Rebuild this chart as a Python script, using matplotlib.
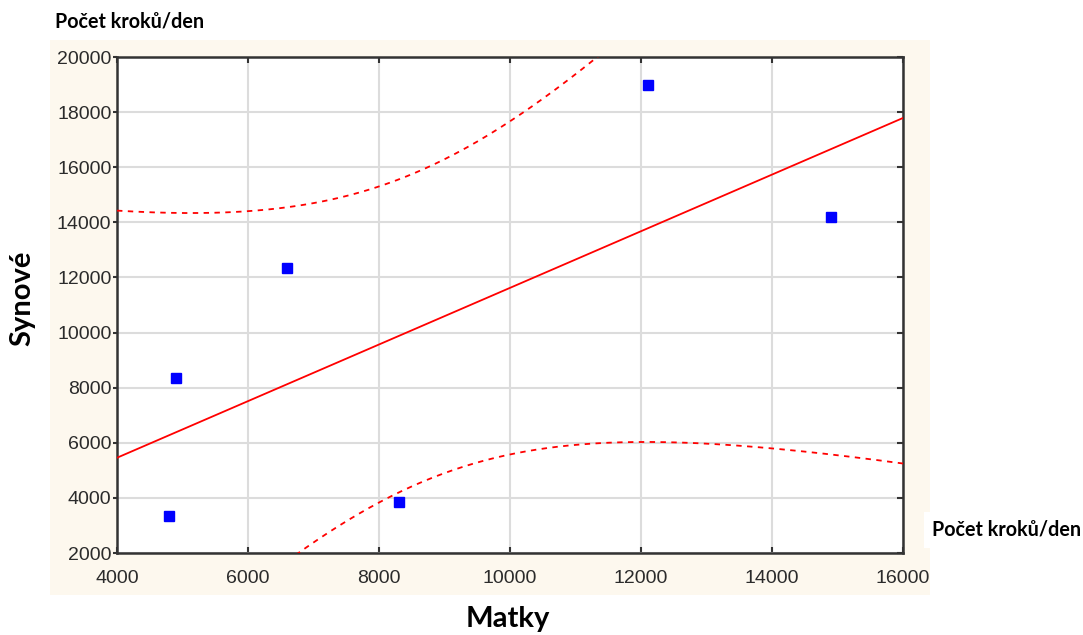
import numpy as np
import matplotlib.pyplot as plt
from matplotlib.patches import Rectangle

# data
matky = [4800, 4900, 6600, 8300, 12100, 14900]
synove = [3350, 8350, 12350, 3850, 19000, 14200]
x_ticks = [4000, 6000, 8000, 10000, 12000, 14000, 16000]
y_ticks = [2000, 4000, 6000, 8000, 10000, 12000, 14000, 16000, 18000, 20000]

x = np.array(matky, dtype=float)
y = np.array(synove, dtype=float)

# linear fit with 95% confidence band of the mean
slope, intercept = np.polyfit(x, y, 1)
n = len(x)
resid = y - (slope * x + intercept)
s = np.sqrt(np.sum(resid ** 2) / (n - 2))
t_val = 2.776  # t(0.975, 4)
xx = np.linspace(4000, 16000, 300)
yy = slope * xx + intercept
se = s * np.sqrt(1.0 / n + (xx - x.mean()) ** 2 / np.sum((x - x.mean()) ** 2))
upper = yy + t_val * se
lower = yy - t_val * se

W, H = 1083, 635
fig = plt.figure(figsize=(W / 100, H / 100), dpi=100)
fig.patch.set_facecolor('white')

# beige panel behind the chart
panel = Rectangle((50 / W, 1 - 595 / H), 880 / W, 555 / H, transform=fig.transFigure,
                  facecolor='#fdf8ee', edgecolor='none', zorder=-5)
fig.patches.append(panel)

ax = fig.add_axes([117 / W, 1 - 553 / H, 786 / W, 496 / H])
ax.set_zorder(1)
ax.set_facecolor('white')

ax.plot(xx, yy, color='#ff0000', lw=1.3, zorder=3)
ax.plot(xx, upper, color='#ff0000', lw=1.3, ls=(0, (3, 3)), zorder=3)
ax.plot(xx, lower, color='#ff0000', lw=1.3, ls=(0, (3, 3)), zorder=3)
ax.plot(x, y, 's', color='#0000ff', markersize=7, zorder=4)

ax.set_xlim(4000, 16000)
ax.set_ylim(2000, 20000)
ax.set_xticks(x_ticks)
ax.set_yticks(y_ticks)
ax.grid(True, color='#dcdcdc', lw=1.5, zorder=1)
ax.set_axisbelow(True)

for sp in ax.spines.values():
    sp.set_color('#333333')
    sp.set_linewidth(1.8)

ax.tick_params(axis='x', direction='in', length=4, width=1.5, color='#333333',
               top=True, labelsize=14, labelcolor='#2b2b2b', pad=12)
ax.tick_params(axis='y', direction='out', length=3, width=1.5, color='#333333',
               labelsize=14, labelcolor='#2b2b2b', pad=1)
ax.tick_params(axis='y', which='major', right=True)
for lab in ax.get_xticklabels() + ax.get_yticklabels():
    lab.set_family('Liberation Sans')
    lab.set_clip_path(panel)

# right ticks point inward
for tick in ax.yaxis.get_major_ticks():
    tick.tick2line.set_marker(0)
    tick.tick2line.set_markersize(4)

lab_font = dict(family=['Lato', 'DejaVu Sans'], fontweight='bold', color='black')
fig.text(55 / W, 1 - 21 / H, 'Počet kroků/den', fontsize=14.2, ha='left', va='center', **lab_font)
fig.text(932 / W, 1 - 530 / H, 'Počet kroků/den', fontsize=14.2, ha='left', va='center',
         bbox=dict(facecolor='white', edgecolor='none', pad=6), **lab_font)
fig.text(22 / W, 1 - 298 / H, 'Synové', fontsize=21, rotation=90, ha='center', va='center', **lab_font)
fig.text(508 / W, 1 - 619 / H, 'Matky', fontsize=21, ha='center', va='center', **lab_font)

fig.savefig('out.png', dpi=100)
